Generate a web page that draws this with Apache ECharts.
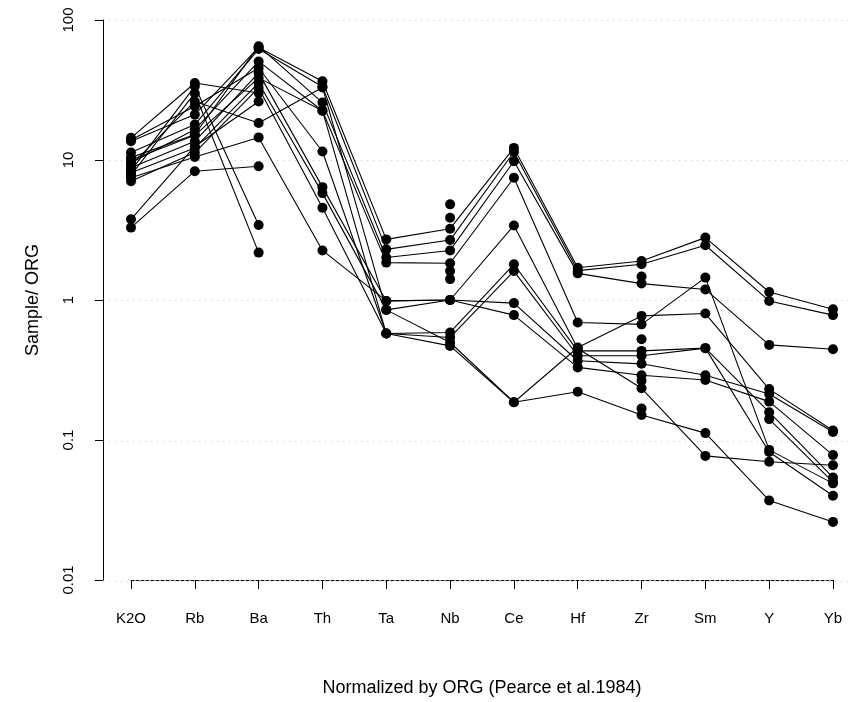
<!DOCTYPE html>
<html>
<head>
<meta charset="utf-8">
<script src="https://cdn.jsdelivr.net/npm/echarts@6/dist/echarts.min.js"></script>
<style>
  html, body { margin: 0; padding: 0; background: #fff; }
  #chart { width: 856px; height: 702px; }
</style>
</head>
<body>
<div id="chart"></div>
<script>
// Spider diagram: sample concentrations normalised to ORG (Pearce et al. 1984)
const elements = ['K2O', 'Rb', 'Ba', 'Th', 'Ta', 'Nb', 'Ce', 'Hf', 'Zr', 'Sm', 'Y', 'Yb'];
const yTicks = [0.01, 0.1, 1, 10, 100];

// Normalised values, one array per sample (null = not analysed)
const sample01 = [13.6, 21.1, 63.7, 36.5, 2.71, 3.23, 12.2, 1.70, 1.90, 2.79, 1.14, 0.86];
const sample02 = [11.3, 17.9, 62.0, 33.4, 2.30, 2.68, 11.4, 1.62, 1.80, 2.46, 0.985, 0.78];
const sample03 = [10.4, 15.2, 65.0, 25.7, 2.01, 2.26, 9.8, 1.55, 1.31, 1.19, 0.478, 0.445];
const sample04 = [9.55, 16.5, 50.6, 22.5, 1.85, 1.83, 7.47, 0.69, 0.67, 1.445, 0.085, 0.049];
const sample05 = [8.8, 13.6, 41.9, 6.4, 0.985, 1.0, 3.41, 0.45, 0.234, 0.077, 0.070, 0.066];
const sample06 = [8.1, 12.2, 35.5, 5.8, 0.85, 1.0, 0.95, 0.368, 0.35, 0.29, 0.213, 0.114];
const sample07 = [7.47, 10.5, 14.5, 2.26, 0.985, 1.0, 0.78, 0.33, 0.29, 0.268, 0.188, 0.078];
const sample08 = [13.9, 24.2, 45.4, 11.5, 0.576, 0.586, 1.80, 0.433, 0.433, 0.453, 0.158, 0.054];
const sample09 = [7.06, 11.3, 32.7, 4.56, 0.576, 0.54, 1.61, 0.40, 0.40, 0.453, 0.082, 0.040];
const sample10 = [9.2, 26.2, 18.4, 33.0, 0.85, 0.497, 0.186, 0.458, 0.77, 0.80, 0.231, 0.117];
const sample11 = [10.0, 15.0, 38.6, 22.5, 0.576, 0.47, 0.186, 0.221, 0.151, 0.112, 0.037, 0.026];
const sample12 = [14.4, 35.5, 30.1, null, null, 4.82, null, null, 1.47, null, 0.141, 0.050];
const sample13 = [8.4, 33.6, 3.43, null, null, 3.87, null, null, 0.525, null, null, null];
const sample14 = [3.29, 8.32, 9.03, null, null, 1.61, null, null, 0.168, null, null, null];
const sample15 = [3.77, 12.5, 26.2, null, null, 1.41, null, null, 0.265, null, null, null];
const sample16 = [7.8, 30.0, 2.18, null, null, null, null, null, null, null, null, null];

const samples = [sample01, sample02, sample03, sample04, sample05, sample06, sample07, sample08,
                 sample09, sample10, sample11, sample12, sample13, sample14, sample15, sample16];

const font = 'Liberation Sans, Arial, Helvetica, sans-serif';

const chart = echarts.init(document.getElementById('chart'), null, { renderer: 'canvas' });

const series = samples.map((vals, i) => ({
  type: 'line',
  name: 'sample' + (i + 1),
  xAxisIndex: 0,
  yAxisIndex: 0,
  data: vals,
  connectNulls: false,
  symbol: 'circle',
  symbolSize: 10,
  showSymbol: true,
  showAllSymbol: true,
  lineStyle: { color: '#000', width: 1.1 },
  itemStyle: { color: '#000' },
  emphasis: { disabled: true },
  animation: false
}));

chart.setOption({
  backgroundColor: '#fff',
  animation: false,
  grid: [
    { left: 131, right: 23, top: 20, bottom: 121 },
    { left: 103, right: 4, top: 20, bottom: 121 }
  ],
  xAxis: [
    {
      type: 'category',
      gridIndex: 0,
      data: elements,
      boundaryGap: false,
      axisLine: { show: true, lineStyle: { color: '#000', width: 1, type: [3, 2] } },
      axisTick: { show: true, alignWithLabel: true, length: 9, lineStyle: { color: '#000', width: 1 } },
      axisLabel: { color: '#000', fontFamily: font, fontSize: 15, margin: 31 },
      splitLine: { show: false },
      name: 'Normalized by ORG (Pearce et al.1984)',
      nameLocation: 'middle',
      nameGap: 99,
      nameTextStyle: { color: '#000', fontFamily: font, fontSize: 18 }
    },
    {
      type: 'value',
      gridIndex: 1,
      min: 0,
      max: 1,
      show: false
    }
  ],
  yAxis: [
    {
      type: 'log',
      gridIndex: 0,
      logBase: 10,
      min: 0.01,
      max: 100,
      offset: 28,
      axisLine: { show: true, lineStyle: { color: '#000', width: 1 } },
      axisTick: { show: true, length: 8, lineStyle: { color: '#000', width: 1 } },
      axisLabel: {
        color: '#000', fontFamily: font, fontSize: 15, rotate: 90, margin: 27,
        formatter: v => {
          const t = yTicks.find(k => Math.abs(Math.log10(k) - Math.log10(v)) < 1e-6);
          return t === undefined ? '' : String(t);
        }
      },
      splitLine: { show: false },
      name: 'Sample/ ORG',
      nameLocation: 'middle',
      nameGap: 61,
      nameRotate: 90,
      nameTextStyle: { color: '#000', fontFamily: font, fontSize: 18 }
    },
    {
      type: 'log',
      gridIndex: 1,
      logBase: 10,
      min: 0.01,
      max: 100,
      axisLine: { show: false },
      axisTick: { show: false },
      axisLabel: { show: false },
      splitLine: { show: true, lineStyle: { color: '#c8c8c8', width: 1, type: [1, 5] } }
    }
  ],
  series: series
});
</script>
</body>
</html>
